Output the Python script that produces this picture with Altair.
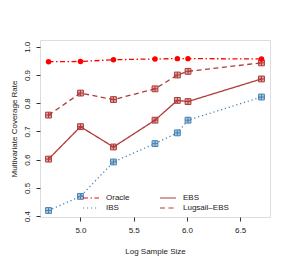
import altair as alt
import pandas as pd

log_n = [4.70, 5.00, 5.31, 5.70, 5.91, 6.01, 6.70]
oracle = [0.947, 0.948, 0.954, 0.957, 0.958, 0.958, 0.957]
ebs = [0.602, 0.717, 0.645, 0.740, 0.810, 0.806, 0.886]
ibs = [0.420, 0.470, 0.592, 0.657, 0.695, 0.740, 0.822]
lugsail = [0.758, 0.836, 0.813, 0.851, 0.900, 0.913, 0.943]

methods = ["Oracle", "EBS", "IBS", "Lugsail\u2013EBS"]
colors = ["#FF0000", "#B03A3A", "#4682B4", "#B03A3A"]
dashes = [[5, 2.5, 1.5, 2.5], [1, 0], [1.2, 2.8], [5, 3.5]]
x_ticks = [5.0, 5.5, 6.0, 6.5]
y_ticks = [0.4, 0.5, 0.6, 0.7, 0.8, 0.9, 1.0]

rows = []
for m, vals in zip(methods, [oracle, ebs, ibs, lugsail]):
    for x, v in zip(log_n, vals):
        rows.append({"x": x, "y": v, "method": m})
df = pd.DataFrame(rows)

FONT = "Liberation Sans"
xs = alt.Scale(domain=[4.62, 6.78], nice=False, zero=False)
ys = alt.Scale(domain=[0.397, 1.024], nice=False, zero=False)
cs = alt.Scale(domain=methods, range=colors)
ds = alt.Scale(domain=methods, range=dashes)

xaxis = alt.Axis(
    values=x_ticks, format=".1f", title="Log Sample Size", grid=False, domain=False,
    tickSize=4, tickColor="#333", labelPadding=5, titlePadding=13, labelOverlap=False,
    labelFontSize=8, titleFontSize=8, labelFont=FONT, titleFont=FONT,
    labelColor="#222", titleColor="#222", titleFontWeight="normal")
yaxis = alt.Axis(
    values=y_ticks, format=".1f", title="Multivariate Coverage Rate", grid=False, domain=False,
    tickSize=4, tickColor="#333", labelAngle=270, labelAlign="center", labelBaseline="bottom",
    labelPadding=5, titlePadding=5, labelOverlap=False, labelBound=False, labelFlush=False,
    labelFontSize=8, titleFontSize=8, labelFont=FONT, titleFont=FONT,
    labelColor="#222", titleColor="#222", titleFontWeight="normal")

X = alt.X("x:Q", scale=xs, axis=xaxis)
Y = alt.Y("y:Q", scale=ys, axis=yaxis)
C = alt.Color("method:N", scale=cs, legend=None)

lines = alt.Chart(df).mark_line(strokeWidth=1.3).encode(
    x=X, y=Y, color=C,
    strokeDash=alt.StrokeDash("method:N", scale=ds, legend=None),
)

sq_df = alt.datum.method != "Oracle"
pts_fill = alt.Chart(df).transform_filter(sq_df).mark_point(
    shape="square", filled=True, size=34, opacity=0.45).encode(x=X, y=Y, color=C)
sq_path = "M-1,-1H1V1H-1Z M0,-1V1 M-1,0H1"
pts_sq = alt.Chart(df).transform_filter(sq_df).mark_point(
    shape=sq_path, filled=False, size=34, strokeWidth=1, opacity=1).encode(x=X, y=Y, color=C)
pts_or = alt.Chart(df).transform_filter(alt.datum.method == "Oracle").mark_circle(
    size=30, opacity=1).encode(x=X, y=Y, color=C)

# manual legend (two columns, no box), positioned in plot pixels
leg_layers = []
col_x = {"Oracle": 43, "IBS": 43, "EBS": 120, "Lugsail\u2013EBS": 120}
row_y = {"Oracle": 158, "EBS": 158, "IBS": 168, "Lugsail\u2013EBS": 168}
for m, c, d in zip(methods, colors, dashes):
    ld = pd.DataFrame({"method": [m]})
    leg_layers.append(alt.Chart(ld).mark_rule(strokeWidth=1.2, color=c, strokeDash=d).encode(
        x=alt.value(col_x[m]), x2=alt.value(col_x[m] + 16), y=alt.value(row_y[m])))
    leg_layers.append(alt.Chart(ld).mark_text(
        align="left", baseline="middle", fontSize=8, font=FONT, color="#222").encode(
        x=alt.value(col_x[m] + 23), y=alt.value(row_y[m]), text="method:N"))

chart = alt.layer(lines, pts_fill, pts_sq, pts_or, *leg_layers).properties(
    width=230, height=177,
    autosize=alt.AutoSizeParams(type="none"),
    padding={"left": 32, "top": 32, "right": 13, "bottom": 42},
).configure_view(stroke="#333", strokeWidth=1).configure_axis(
    labelOverlap=False).configure(background="white")

chart.save("out.html", embed_options={"renderer": "svg", "actions": False})
